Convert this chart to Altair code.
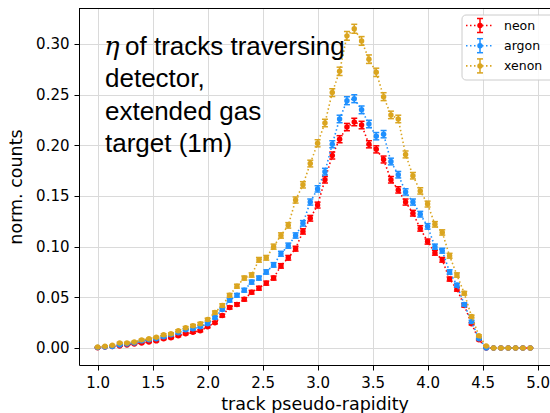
import altair as alt
import pandas as pd

# Pseudo-rapidity bin positions, 60 bins of width 1/15 starting at eta = 1
eta = [round(1 + k / 15, 4) for k in range(60)]

series_names = ["neon", "argon", "xenon"]
series_colors = ["#ff0000", "#1e90ff", "#daa520"]

neon = [0.0003, 0.001, 0.0015, 0.002, 0.003, 0.004, 0.005, 0.006, 0.007, 0.009,
        0.010, 0.012, 0.014, 0.0155, 0.017, 0.021, 0.025, 0.032, 0.040, 0.043,
        0.048, 0.055, 0.059, 0.064, 0.069, 0.081, 0.089, 0.098, 0.115, 0.128,
        0.141, 0.166, 0.190, 0.206, 0.218, 0.223, 0.220, 0.201, 0.196, 0.186,
        0.166, 0.156, 0.144, 0.133, 0.118, 0.105, 0.094, 0.087, 0.068, 0.058,
        0.042, 0.024, 0.008, 0, 0, 0, 0, 0, 0, 0]
neon_err = [0.0001, 0.0002, 0.0003, 0.0003, 0.0004, 0.0005, 0.0006, 0.0006, 0.0007, 0.0007,
            0.0008, 0.0009, 0.0009, 0.001, 0.001, 0.0011, 0.0012, 0.0014, 0.0016, 0.0016,
            0.0017, 0.0018, 0.0019, 0.002, 0.002, 0.0022, 0.0023, 0.0024, 0.0026, 0.0028,
            0.0029, 0.0032, 0.0034, 0.0035, 0.0036, 0.0037, 0.0037, 0.0035, 0.0035, 0.0034,
            0.0032, 0.0031, 0.003, 0.0028, 0.0027, 0.0025, 0.0024, 0.0023, 0.002, 0.0019,
            0.0016, 0.0012, 0.0007, 0, 0, 0, 0, 0, 0, 0]

argon = [0.0005, 0.001, 0.0015, 0.003, 0.004, 0.005, 0.007, 0.008, 0.009, 0.011,
         0.013, 0.015, 0.018, 0.019, 0.021, 0.024, 0.030, 0.038, 0.047, 0.052,
         0.057, 0.065, 0.069, 0.075, 0.082, 0.093, 0.101, 0.111, 0.123, 0.144,
         0.157, 0.174, 0.201, 0.226, 0.244, 0.246, 0.235, 0.221, 0.209, 0.211,
         0.184, 0.171, 0.154, 0.144, 0.132, 0.120, 0.100, 0.096, 0.075, 0.062,
         0.043, 0.026, 0.009, 0, 0, 0, 0, 0, 0, 0]
argon_err = [0.0002, 0.0002, 0.0003, 0.0004, 0.0005, 0.0006, 0.0007, 0.0007, 0.0007, 0.0008,
             0.0009, 0.001, 0.001, 0.0011, 0.0011, 0.0012, 0.0014, 0.0015, 0.0017, 0.0018,
             0.0019, 0.002, 0.002, 0.0021, 0.0022, 0.0024, 0.0025, 0.0026, 0.0027, 0.003,
             0.0031, 0.0033, 0.0035, 0.0037, 0.0039, 0.0039, 0.0038, 0.0037, 0.0036, 0.0036,
             0.0033, 0.0032, 0.0031, 0.003, 0.0028, 0.0027, 0.0025, 0.0024, 0.0021, 0.0019,
             0.0016, 0.0013, 0.0007, 0, 0, 0, 0, 0, 0, 0]

xenon = [0.001, 0.0016, 0.0026, 0.005, 0.005, 0.006, 0.008, 0.009, 0.0105, 0.013,
         0.014, 0.017, 0.020, 0.022, 0.024, 0.028, 0.035, 0.042, 0.052, 0.061,
         0.069, 0.072, 0.087, 0.089, 0.100, 0.111, 0.121, 0.146, 0.161, 0.182,
         0.202, 0.222, 0.252, 0.273, 0.308, 0.315, 0.303, 0.285, 0.272, 0.248,
         0.230, 0.226, 0.191, 0.170, 0.155, 0.142, 0.122, 0.114, 0.091, 0.072,
         0.054, 0.031, 0.012, 0.002, 0, 0, 0, 0, 0, 0]
xenon_err = [0.0002, 0.0003, 0.0004, 0.0006, 0.0006, 0.0006, 0.0007, 0.0007, 0.0008, 0.0009,
             0.0009, 0.001, 0.0011, 0.0012, 0.0012, 0.0013, 0.0015, 0.0016, 0.0018, 0.0019,
             0.002, 0.0021, 0.0023, 0.0023, 0.0025, 0.0026, 0.0027, 0.003, 0.0031, 0.0033,
             0.0035, 0.0037, 0.0039, 0.0041, 0.0043, 0.0044, 0.0043, 0.0042, 0.0041, 0.0039,
             0.0037, 0.0037, 0.0034, 0.0032, 0.0031, 0.0029, 0.0027, 0.0026, 0.0024, 0.0021,
             0.0018, 0.0014, 0.0009, 0.0003, 0, 0, 0, 0, 0, 0]

x_ticks = [1.0, 1.5, 2.0, 2.5, 3.0, 3.5, 4.0, 4.5, 5.0]
y_ticks = [0.0, 0.05, 0.10, 0.15, 0.20, 0.25, 0.30]

values = [neon, argon, xenon]
errors = [neon_err, argon_err, xenon_err]

W, H = 471, 357
X_DOMAIN = [0.8306, 5.113]
Y_DOMAIN = [-0.0168, 0.3355]

xscale = alt.Scale(domain=X_DOMAIN, nice=False, zero=False)
yscale = alt.Scale(domain=Y_DOMAIN, nice=False, zero=False)

x_axis = alt.Axis(values=x_ticks, format=".1f", title="track pseudo-rapidity")
y_axis = alt.Axis(values=y_ticks, format=".2f", title="norm. counts")


def xenc():
    return alt.X("eta:Q", scale=xscale, axis=x_axis)


def yenc(field):
    return alt.Y(f"{field}:Q", scale=yscale, axis=y_axis)


layers = []
for name, color, vals, errs in zip(series_names, series_colors, values, errors):
    df = pd.DataFrame({
        "eta": eta,
        "v": vals,
        "lo": [v - e for v, e in zip(vals, errs)],
        "hi": [v + e for v, e in zip(vals, errs)],
    })
    base = alt.Chart(df)
    line = base.mark_line(color=color, strokeDash=[1.5, 2.5], strokeWidth=1.6).encode(
        x=xenc(), y=yenc("v")
    )
    bars = base.mark_rule(color=color, strokeWidth=1.5).encode(
        x=xenc(), y=yenc("lo"), y2="hi:Q"
    )
    cap_lo = base.mark_tick(color=color, orient="horizontal", size=6, thickness=1.5, opacity=1).encode(
        x=xenc(), y=yenc("lo")
    )
    cap_hi = base.mark_tick(color=color, orient="horizontal", size=6, thickness=1.5, opacity=1).encode(
        x=xenc(), y=yenc("hi")
    )
    pts = base.mark_circle(color=color, size=30, opacity=1).encode(
        x=xenc(), y=yenc("v")
    )
    layers += [line, bars, cap_lo, cap_hi, pts]

one = pd.DataFrame({"k": [0]})

# top spine of the frame
top_spine = alt.Chart(one).mark_rule(color="black", strokeWidth=1).encode(
    x=alt.value(0), x2=alt.value(W), y=alt.value(0.5)
)

# annotation in the upper left of the axes
eta_sym = alt.Chart(one).mark_text(
    text="η", font="DejaVu Serif", fontStyle="italic", fontSize=26,
    align="left", baseline="alphabetic", color="black"
).encode(x=alt.value(25), y=alt.value(46.5))
ann_first = alt.Chart(one).mark_text(
    text="of tracks traversing", font="Liberation Sans", fontSize=26,
    align="left", baseline="alphabetic", color="black"
).encode(x=alt.value(46), y=alt.value(46.5))
ann_rest = alt.Chart(one).mark_text(
    text=["detector,", "extended gas", "target (1m)"], font="Liberation Sans", fontSize=26,
    align="left", baseline="alphabetic", lineHeight=32.5, color="black"
).encode(x=alt.value(26), y=alt.value(79))

# legend box with one row per gas
legend_layers = [
    alt.Chart(one).mark_rect(
        fill="white", fillOpacity=0.85, stroke="#cccccc", strokeWidth=1, cornerRadius=4
    ).encode(x=alt.value(383), x2=alt.value(W + 10), y=alt.value(7), y2=alt.value(72))
]
for i, (name, color) in enumerate(zip(series_names, series_colors)):
    ly = 17.5 + 20.2 * i
    legend_layers += [
        alt.Chart(one).mark_rule(color=color, strokeDash=[1.5, 2.5], strokeWidth=1.6).encode(
            x=alt.value(387), x2=alt.value(415), y=alt.value(ly)
        ),
        alt.Chart(one).mark_rule(color=color, strokeWidth=1.5).encode(
            x=alt.value(401), y=alt.value(ly - 7), y2=alt.value(ly + 7)
        ),
        alt.Chart(one).mark_rule(color=color, strokeWidth=1.5).encode(
            x=alt.value(398), x2=alt.value(404), y=alt.value(ly - 7)
        ),
        alt.Chart(one).mark_rule(color=color, strokeWidth=1.5).encode(
            x=alt.value(398), x2=alt.value(404), y=alt.value(ly + 7)
        ),
        alt.Chart(one).mark_circle(color=color, size=30, opacity=1).encode(
            x=alt.value(401), y=alt.value(ly)
        ),
        alt.Chart(one).mark_text(
            text=name, font="DejaVu Sans", fontSize=12.5, align="left",
            baseline="middle", color="black"
        ).encode(x=alt.value(425), y=alt.value(ly)),
    ]

chart = alt.layer(
    *layers, top_spine, eta_sym, ann_first, ann_rest, *legend_layers
).properties(
    width=W, height=H,
    autosize=alt.AutoSizeParams(type="none"),
    padding={"left": 79, "top": 8, "right": 0, "bottom": 48},
).configure_view(
    stroke=None
).configure_axis(
    grid=True, gridColor="#dadada", gridWidth=1,
    domainColor="black", domainWidth=1,
    tickColor="black", tickSize=5, tickWidth=1,
    labelFont="DejaVu Sans", labelFontSize=15, labelColor="black", labelPadding=5,
    titleFont="DejaVu Sans", titleFontSize=17.5, titleColor="black", titleFontWeight="normal",
).configure_axisX(
    titlePadding=5
).configure_axisY(
    titlePadding=10
)

chart.save("out.html", embed_options={"renderer": "svg", "actions": False})
